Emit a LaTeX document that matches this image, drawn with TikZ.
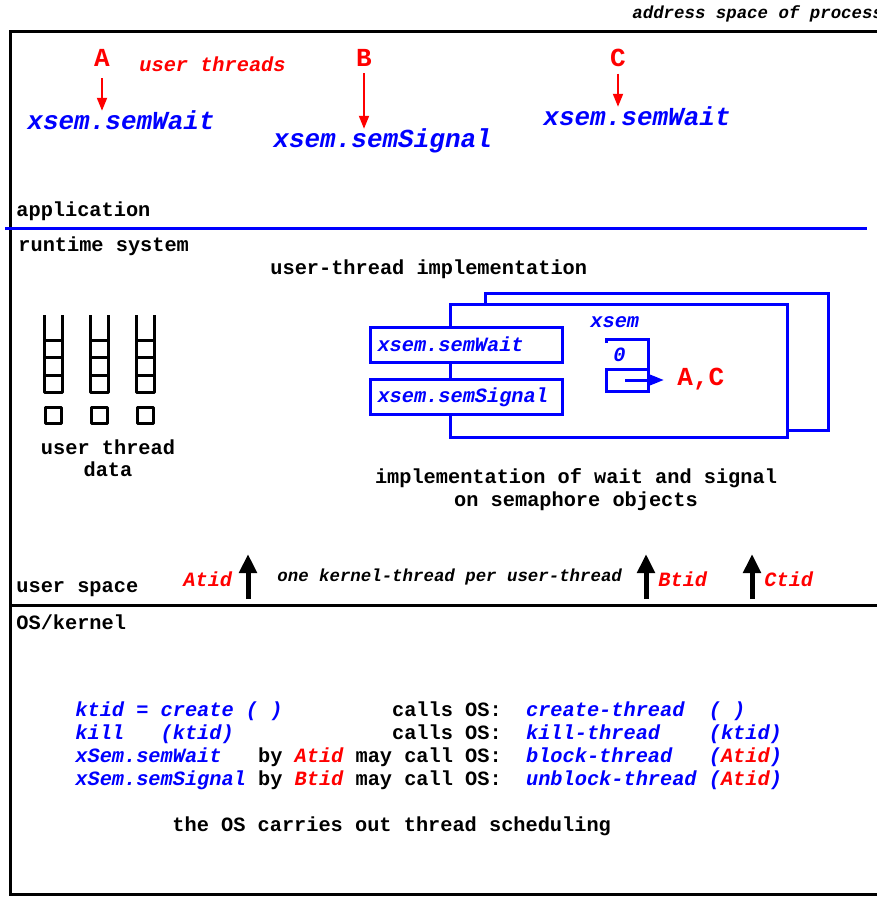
\documentclass[tikz,border=0pt]{standalone}
\usepackage{fontspec}
\setmainfont{Liberation Mono}
\usepackage{tikz}
\usetikzlibrary{arrows.meta}
\newcommand\basefont{\fontsize{10.15}{12}\selectfont}
\tikzstyle{lbl} = [anchor=base west, inner sep=0pt, font=\bfseries\basefont]
\tikzstyle{ctr} = [lbl, anchor=base]
\tikzstyle{small} = [lbl, font=\bfseries\itshape\fontsize{8.7}{10}\selectfont]
\tikzstyle{call} = [lbl, text=blue, font=\bfseries\itshape\basefont]
\tikzstyle{bigcall} = [call, font=\bfseries\itshape\fontsize{13}{15}\selectfont]
\tikzstyle{thread} = [anchor=base, inner sep=0pt, text=red, font=\bfseries\fontsize{13}{15}\selectfont]
\tikzstyle{tid} = [lbl, text=red, font=\bfseries\itshape\basefont]
\tikzstyle{fnbox} = [rectangle, draw=blue, fill=white, line width=1.5pt, anchor=west, minimum height=17.5pt, text width=89pt, inner xsep=3.5pt, align=left, text=blue, font=\bfseries\itshape\basefont]
\tikzstyle{implbox} = [draw=blue, fill=white, line width=1.5pt]
\tikzstyle{stack} = [draw, line width=1.5pt, line join=round]
\tikzstyle{divider} = [draw, line width=1.5pt]
\tikzstyle{redline} = [draw=red, line width=1pt, -{Triangle[width=5pt,length=6.5pt]}]
\tikzstyle{blueline} = [draw=blue, line width=1.5pt, -{Triangle[width=5pt,length=7pt]}]
\tikzstyle{kline} = [draw, line width=2.5pt, -{Triangle[width=8.5pt,length=9.5pt]}]
\newcommand\kcall{\color{blue}\itshape}
\newcommand\ktid[1]{{\color{red}\itshape #1}}

\begin{document}
\begin{tikzpicture}[x=0.5pt, y=-0.5pt]
    \useasboundingbox (0,0) rectangle (877,899);
    \draw[divider] (900,32) -- (10,32) -- (10,894.5) -- (900,894.5);
    \node[small](aspace) at (632,19) {address space of process};

    % application
    \node[thread](thA) at (102,67) {A};
    \node[thread](thB) at (364,67) {B};
    \node[thread](thC) at (618,67) {C};
    \node[tid](uthreads) at (139,72) {user threads};
    \node[bigcall](waitA) at (27,130) {xsem.semWait};
    \node[bigcall](signalB) at (273,148) {xsem.semSignal};
    \node[bigcall](waitC) at (543,126) {xsem.semWait};
    \path[redline, shorten <=5.5pt] (thA.south) -- (thA.south |- waitA.north);
    \path[redline, shorten <=3pt] (thB.south) -- (thB.south |- signalB.north);
    \path[redline, shorten <=3pt] (thC.south) -- (thC.south |- waitC.north);
    \node[lbl](app) at (16,216) {application};
    \draw[blue, line width=1.5pt] (5,228.5) -- (867,228.5);

    % runtime system
    \node[lbl](runtime) at (18,251) {runtime system};
    \node[lbl](uimpl) at (270,274) {user-thread implementation};
    \foreach \x in {44,90,136} {
        \draw[stack] (\x,315) -- (\x,392) -- (\x+18,392) -- (\x+18,315);
        \foreach \y in {340,357,375}
            \draw[stack] (\x,\y) -- (\x+18,\y);
        \draw[stack] (\x+1,407) rectangle (\x+17,423);
    }
    \node[ctr](udata1) at (108,454) {user thread};
    \node[ctr](udata2) at (108,476) {data};

    \draw[implbox] (485,293) rectangle (828,430);
    \draw[implbox] (450,304) rectangle (787,437);
    \node[fnbox](waitbox) at (369,344.5) {xsem.semWait};
    \node[fnbox](signalbox) at (369,397) {xsem.semSignal};
    \node[call](xsem) at (590,327) {xsem};
    \node[call](count) at (613,361) {0};
    \draw[blue, line width=1.5pt] (606,343) -- (606,339) -- (648,339) -- (648,391) -- (606,391) -- (606,369) -- (648,369);
    \coordinate (semptr) at (625,380);
    \node[thread, anchor=base west](AC) at (677,385) {A,C};
    \path[blueline, shorten >=6.5pt] (semptr) -- (semptr -| AC.west);
    \node[ctr](impl1) at (576,483) {implementation of wait and signal};
    \node[ctr](impl2) at (576,506) {on semaphore objects};

    % user space / kernel
    \node[tid](Atid) at (183,586) {Atid};
    \node[small](perthread) at (277,581) {one kernel-thread per user-thread};
    \node[tid](Btid) at (658,586) {Btid};
    \node[tid](Ctid) at (764,586) {Ctid};
    \coordinate (kA) at (248,599);
    \coordinate (kAtop) at (248,554);
    \coordinate (kB) at (646,599);
    \coordinate (kBtop) at (646,554);
    \coordinate (kC) at (752,599);
    \coordinate (kCtop) at (752,554);
    \path[kline] (kA) -- (kAtop);
    \path[kline] (kB) -- (kBtop);
    \path[kline] (kC) -- (kCtop);
    \node[lbl](uspace) at (16,592) {user space};
    \draw[divider] (10,605) -- (900,605);
    \node[lbl](oskernel) at (16,629) {OS/kernel};

    \node[lbl](kcreate) at (75,716) {{\kcall ktid = create ( )}~~~~~~~~~calls OS:~~{\kcall create-thread~~( )}};
    \node[lbl](kkill) at (75,739) {{\kcall kill~~~(ktid)}~~~~~~~~~~~~~calls OS:~~{\kcall kill-thread~~~~(ktid)}};
    \node[lbl](kwait) at (75,762) {{\kcall xSem.semWait}~~~by \ktid{Atid} may call OS:~~{\kcall block-thread~~~(\ktid{Atid})}};
    \node[lbl](ksignal) at (75,785) {{\kcall xSem.semSignal} by \ktid{Btid} may call OS:~~{\kcall unblock-thread (\ktid{Atid})}};
    \node[lbl](sched) at (172,831) {the OS carries out thread scheduling};
\end{tikzpicture}
\end{document}
